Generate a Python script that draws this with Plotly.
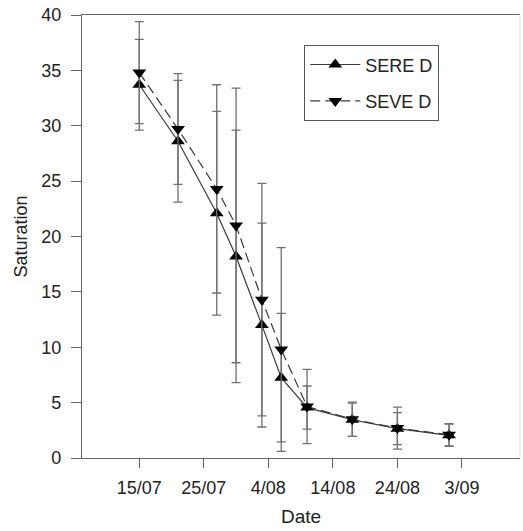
import plotly.graph_objects as go

dates = ["2000-07-15", "2000-07-21", "2000-07-27", "2000-07-30", "2000-08-03",
         "2000-08-06", "2000-08-10", "2000-08-17", "2000-08-24", "2000-09-01"]

sere_d = [33.7, 28.6, 22.1, 18.2, 12.0, 7.25, 4.55, 3.45, 2.65, 2.05]
sere_err = [4.1, 5.5, 9.2, 11.4, 9.2, 5.8, 1.95, 1.5, 1.45, 1.0]

seve_d = [34.8, 29.7, 24.3, 21.0, 14.3, 9.8, 4.65, 3.5, 2.7, 2.1]
seve_err = [4.6, 5.0, 9.4, 12.4, 10.5, 9.2, 3.35, 1.55, 1.9, 1.0]

tick_vals = ["2000-07-15", "2000-07-25", "2000-08-04", "2000-08-14", "2000-08-24", "2000-09-03"]
tick_text = ["15/07", "25/07", "4/08", "14/08", "24/08", "3/09"]

font_family = "Liberation Sans, Arial, sans-serif"
axis_col = "#666666"
err_col = "#707070"

fig = go.Figure()
fig.add_trace(go.Scatter(
    x=dates, y=sere_d, name="SERE D", mode="lines+markers",
    line=dict(color="#3a3a3a", width=1.2),
    marker=dict(symbol="triangle-up", size=12, color="black"),
    error_y=dict(type="data", array=sere_err, visible=True, color=err_col, thickness=1.3, width=4.5),
    legendgroup="a",
))
fig.add_trace(go.Scatter(
    x=dates, y=seve_d, name="SEVE D", mode="lines+markers",
    line=dict(color="#3a3a3a", width=1.2, dash="10px,5px"),
    marker=dict(symbol="triangle-down", size=12, color="black"),
    error_y=dict(type="data", array=seve_err, visible=True, color=err_col, thickness=1.3, width=4.5),
    legendgroup="b",
))

fig.update_layout(
    width=523, height=531,
    margin=dict(l=82, r=3, t=15, b=73),
    paper_bgcolor="white", plot_bgcolor="white",
    font=dict(family=font_family, size=18, color="#222222"),
    showlegend=True,
    legend=dict(
        x=0.507, y=0.932, xanchor="left", yanchor="top",
        bordercolor="#555555", borderwidth=1.2, bgcolor="white",
        font=dict(size=18, color="#222222"),
        tracegroupgap=10, traceorder="grouped",
        itemwidth=50,
    ),
    xaxis=dict(
        type="date",
        range=["2000-07-06 03:00", "2000-09-12"],
        tickmode="array", tickvals=tick_vals, ticktext=tick_text,
        ticks="outside", ticklen=9, tickcolor=axis_col, tickwidth=1.2,
        showline=True, linecolor=axis_col, linewidth=1.3, mirror=True,
        showgrid=False, zeroline=False,
        title=dict(text="Date", font=dict(size=19), standoff=12),
        tickfont=dict(size=18),
        ticklabelstandoff=4,
    ),
    yaxis=dict(
        range=[0, 40], dtick=5,
        ticks="outside", ticklen=10, tickcolor=axis_col, tickwidth=1.2,
        showline=True, linecolor=axis_col, linewidth=1.3,
        showgrid=False, zeroline=False,
        title=dict(text="Saturation", font=dict(size=18), standoff=8),
        tickfont=dict(size=18),
        ticklabelstandoff=6,
    ),
)
fig.add_shape(type="line", xref="paper", yref="paper", x0=1, x1=1, y0=0, y1=1,
              line=dict(color="#dddddd", width=1))

fig.write_html("out.html")
